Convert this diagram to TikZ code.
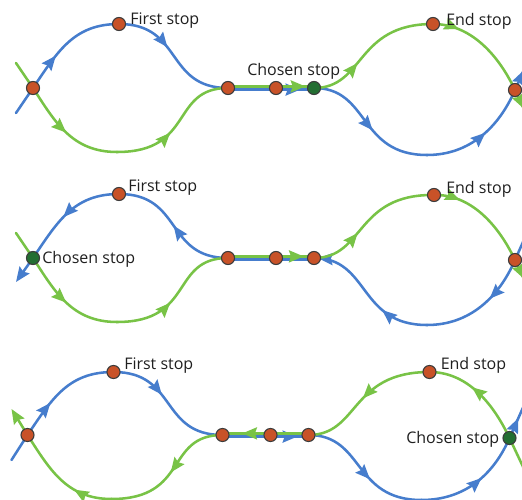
\documentclass[tikz,border=0pt]{standalone}
\usepackage{fontspec}
\setmainfont{Open Sans}
\usetikzlibrary{arrows.meta,decorations.markings}
\definecolor{lineblue}{RGB}{70,125,205}
\definecolor{linegreen}{RGB}{120,195,70}
\definecolor{stopfill}{RGB}{200,82,40}
\definecolor{chosenfill}{RGB}{35,110,50}
\definecolor{stopedge}{RGB}{60,60,60}
\pgfdeclarelayer{bg}
\pgfdeclarelayer{paper}
\pgfsetlayers{paper,bg,main}
\tikzset{
  route/.style={line width=1.9pt, line cap=round},
  bluer/.style={route, draw=lineblue},
  greenr/.style={route, draw=linegreen},
  arr/.style={postaction={decorate, decoration={markings, mark=at position #1 with {\arrow{Stealth[length=11pt,width=9pt,inset=1.5pt]}}}}},
  endarrow/.style={-{Stealth[length=11pt,width=9pt,inset=1.5pt]}},
  stopdot/.style={circle, draw=stopedge, line width=0.8pt, fill=stopfill, minimum size=9.8pt, inner sep=0pt},
  chosendot/.style={stopdot, fill=chosenfill},
  lbl/.style={font=\fontsize{12}{14}\selectfont, text=black!88, inner sep=0pt},
}
\begin{document}
\begin{tikzpicture}[x=0.75pt,y=-0.75pt]
\begin{pgfonlayer}{paper}
\fill[white] (0,0) rectangle (522,500);
\end{pgfonlayer}
\useasboundingbox (0,0) rectangle (522,500);

% ---------------- Panel 1 ----------------
\begin{scope}
\node[stopdot] (aL) at (33,88) {};
\node[stopdot] (aT) at (119,24) {};
\node[stopdot] (aM1) at (228,88) {};
\node[stopdot] (aM2) at (276,88) {};
\node[chosendot] (aM3) at (314,88) {};
\node[stopdot] (aE) at (433,24) {};
\node[stopdot] (aR) at (515,90) {};
\coordinate (aBin) at (16,113);
\coordinate (aGin) at (16,63);
\coordinate (aBout) at (531,54);
\coordinate (aGout) at (531,124);
\coordinate (aBg) at (117,152);
\coordinate (aBb) at (427,155);
\node[lbl, anchor=base west] (aFirst) at (130,24) {First stop};
\node[lbl, anchor=base west] (aChosen) at (247,75) {Chosen stop};
\node[lbl, anchor=base west] (aEnd) at (446,25) {End stop};
\begin{pgfonlayer}{bg}
\draw[bluer] (aBin) -- (aL.center);
\draw[bluer, arr=0.35] (aL.center) .. controls (58,51) and (74,24) .. (aT.center);
\draw[bluer, arr=0.42] (aT.center) .. controls (183,24) and (165,88) .. (aM1.center);
\draw[bluer, arr=0.84] ([yshift=-1.2pt]aM1.center) -- ([yshift=-1.2pt]aM3.center);
\draw[bluer, arr=0.55] (aM3.center) .. controls (370,88) and (358,155) .. (aBb);
\draw[bluer, arr=0.55] (aBb) .. controls (470,155) and (499,127) .. (aR.center);
\draw[bluer, arr=0.55] (aR.center) -- (aBout);
\draw[greenr] (aGin) -- (aL.center);
\draw[greenr, arr=0.5] (aL.center) .. controls (55,122) and (72,152) .. (aBg);
\draw[greenr, arr=0.43] (aBg) .. controls (195,152) and (170,88) .. (aM1.center);
\draw[greenr, arr=0.9] ([yshift=1.2pt]aM1.center) -- ([yshift=1.2pt]aM3.center);
\draw[greenr, arr=0.37] (aM3.center) .. controls (365,88) and (355,24) .. (aE.center);
\draw[greenr, arr=0.24] (aE.center) .. controls (470,24) and (498,54) .. (aR.center);
\draw[greenr, arr=0.55] (aR.center) -- (aGout);
\end{pgfonlayer}
\end{scope}

% ---------------- Panel 2 ----------------
\begin{scope}[shift={(0,170)}]
\node[chosendot] (bL) at (33,88) {};
\node[stopdot] (bT) at (119,24) {};
\node[stopdot] (bM1) at (228,88) {};
\node[stopdot] (bM2) at (276,88) {};
\node[stopdot] (bM3) at (314,88) {};
\node[stopdot] (bE) at (434,25) {};
\node[stopdot] (bR) at (515,90) {};
\coordinate (bBin) at (16,112);
\coordinate (bGin) at (16,63);
\coordinate (bBout) at (531,54);
\coordinate (bGout) at (531,124);
\coordinate (bBg) at (117,152);
\coordinate (bBb) at (427,155);
\node[lbl, anchor=base west] (bFirst) at (128,21) {First stop};
\node[lbl, anchor=base west] (bChosen) at (42,93) {Chosen stop};
\node[lbl, anchor=base west] (bEnd) at (446,23) {End stop};
\begin{pgfonlayer}{bg}
\draw[bluer] (bBout) -- (bR.center);
\draw[bluer, arr=0.4] (bR.center) .. controls (499,127) and (470,155) .. (bBb);
\draw[bluer, arr=0.35, arr=0.97] (bBb) .. controls (358,155) and (370,88) .. (bM3.center);
\draw[bluer] ([yshift=-1.2pt]bM3.center) -- ([yshift=-1.2pt]bM1.center);
\draw[bluer, arr=0.5] (bM1.center) .. controls (165,88) and (183,24) .. (bT.center);
\draw[bluer, arr=0.55] (bT.center) .. controls (74,24) and (58,51) .. (bL.center);
\draw[bluer, endarrow] (bL.center) -- (bBin);
\draw[greenr] (bGin) -- (bL.center);
\draw[greenr, arr=0.5] (bL.center) .. controls (55,122) and (72,152) .. (bBg);
\draw[greenr, arr=0.43] (bBg) .. controls (195,152) and (170,88) .. (bM1.center);
\draw[greenr, arr=0.88] ([yshift=1.2pt]bM1.center) -- ([yshift=1.2pt]bM3.center);
\draw[greenr, arr=0.37] (bM3.center) .. controls (365,88) and (355,24) .. (bE.center);
\draw[greenr, arr=0.24] (bE.center) .. controls (470,24) and (498,54) .. (bR.center);
\draw[greenr, arr=0.55] (bR.center) -- (bGout);
\end{pgfonlayer}
\end{scope}

% ---------------- Panel 3 ----------------
\begin{scope}[shift={(-5.5,347)}]
\node[stopdot] (cL) at (33,88) {};
\node[stopdot] (cT) at (119,25) {};
\node[stopdot] (cM1) at (228,88) {};
\node[stopdot] (cM2) at (276,88) {};
\node[stopdot] (cM3) at (314,88) {};
\node[stopdot] (cE) at (435,25) {};
\node[chosendot] (cR) at (515,91) {};
\coordinate (cBin) at (17,113);
\coordinate (cGin) at (17,62);
\coordinate (cBout) at (531,55);
\coordinate (cGout) at (531,125);
\coordinate (cBg) at (117,152);
\coordinate (cBb) at (427,153);
\node[lbl, anchor=base west] (cFirst) at (129.5,22) {First stop};
\node[lbl, anchor=base east] (cChosen) at (505,96) {Chosen stop};
\node[lbl, anchor=base west] (cEnd) at (446,22) {End stop};
\begin{pgfonlayer}{bg}
\draw[bluer] (cBin) -- (cL.center);
\draw[bluer, arr=0.35] (cL.center) .. controls (58,51) and (74,25) .. (cT.center);
\draw[bluer, arr=0.42] (cT.center) .. controls (183,25) and (165,88) .. (cM1.center);
\draw[bluer, arr=0.87] ([yshift=-1.2pt]cM1.center) -- ([yshift=-1.2pt]cM3.center);
\draw[bluer, arr=0.58] (cM3.center) .. controls (370,88) and (358,153) .. (cBb);
\draw[bluer, arr=0.57] (cBb) .. controls (470,153) and (499,128) .. (cR.center);
\draw[bluer, arr=0.55] (cR.center) -- (cBout);
\draw[greenr] (cGout) -- (cR.center);
\draw[greenr, arr=0.58] (cR.center) .. controls (498,55) and (472,25) .. (cE.center);
\draw[greenr, arr=0.52] (cE.center) .. controls (355,25) and (365,88) .. (cM3.center);
\draw[greenr, arr=0.77] ([yshift=1.2pt]cM3.center) -- ([yshift=1.2pt]cM1.center);
\draw[greenr, arr=0.5] (cM1.center) .. controls (170,88) and (195,152) .. (cBg);
\draw[greenr, arr=0.35] (cBg) .. controls (72,152) and (55,122) .. (cL.center);
\draw[greenr, endarrow] (cL.center) -- (cGin);
\end{pgfonlayer}
\end{scope}
\end{tikzpicture}
\end{document}
